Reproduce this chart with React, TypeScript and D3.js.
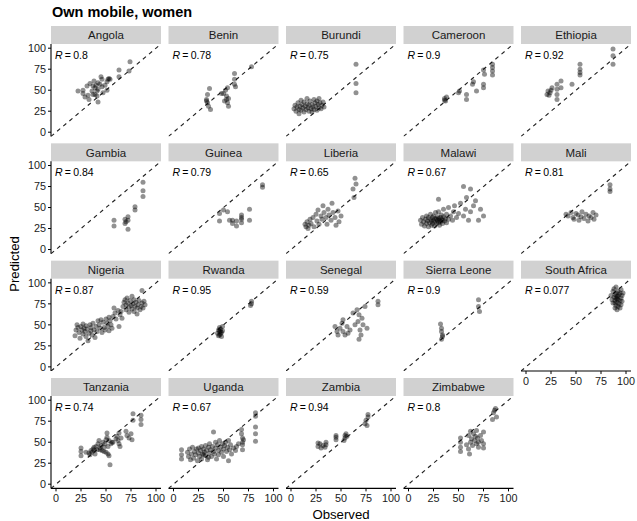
import React from "react";
import * as d3 from "d3";

const COUNTRIES = ["Angola", "Benin", "Burundi", "Cameroon", "Ethiopia", "Gambia", "Guinea", "Liberia", "Malawi", "Mali", "Nigeria", "Rwanda", "Senegal", "Sierra Leone", "South Africa", "Tanzania", "Uganda", "Zambia", "Zimbabwe"];
const R_LABELS = ["0.8", "0.78", "0.75", "0.9", "0.92", "0.84", "0.79", "0.65", "0.67", "0.81", "0.87", "0.95", "0.59", "0.9", "0.077", "0.74", "0.67", "0.94", "0.8"];
const TICKS = [0, 25, 50, 75, 100];

const ANGOLA = [[22,49],[27,50],[27,46],[29,42],[31,55],[32,44],[33,39],[34,58],[36,49],[37,45],[37,55],[38,61],[39,53],[39,45],[40,56],[41,49],[41,43],[42,59],[42,51],[42,36],[44,57],[45,66],[46,63],[46,54],[47,47],[49,56],[51,50],[51,60],[52,63],[53,64],[54,63],[63,74],[63,66],[73,73],[74,84]];
const BENIN = [[36,52],[34,45],[33,39],[34,35],[35,31],[37,27],[33,37],[48,46],[50,46],[53,43],[52,50],[54,53],[53,39],[54,35],[55,31],[51,37],[55,40],[61,70],[61,63],[61,57],[62,54],[78,78]];
const BURUNDI = [[3,28],[4,32],[5,25],[6,30],[7,35],[8,27],[8,22],[9,31],[10,38],[10,26],[11,33],[12,29],[13,24],[13,36],[14,31],[15,27],[16,40],[16,34],[17,29],[18,25],[18,32],[19,37],[20,28],[21,33],[21,24],[22,30],[23,39],[23,27],[24,35],[25,31],[26,26],[26,37],[27,33],[28,29],[28,40],[29,35],[30,28],[31,32],[32,36],[33,30],[65,81],[65,58],[65,47]];
const CAMEROON = [[36,40],[37,37],[38,42],[36,38],[50,47],[51,49],[58,45],[58,39],[64,57],[65,60],[68,49],[75,74],[76,69],[75,57],[75,53],[84,81],[84,77],[84,73],[84,68]];
const ETHIOPIA = [[21,45],[22,49],[24,47],[23,44],[26,53],[25,50],[31,57],[31,51],[31,45],[31,39],[35,61],[35,53],[46,57],[54,81],[54,75],[54,71],[54,68],[87,99],[87,91],[87,81]];
const GAMBIA = [[58,35],[58,28],[69,36],[69,31],[70,33],[72,39],[72,35],[72,24],[79,51],[79,47],[87,80],[87,70],[87,63]];
const GUINEA = [[46,43],[50,47],[54,45],[46,34],[56,35],[59,35],[63,34],[63,28],[59,31],[68,41],[68,38],[68,36],[68,32],[76,48],[76,35],[89,77],[89,74]];
const LIBERIA = [[14,30],[15,27],[16,33],[17,25],[18,29],[19,36],[20,31],[22,38],[23,27],[25,42],[26,34],[27,47],[28,30],[30,40],[31,36],[32,52],[33,44],[35,38],[36,30],[37,48],[38,41],[40,35],[41,55],[42,44],[44,38],[45,29],[47,46],[48,33],[50,40],[62,72],[64,85],[65,78],[63,62]];
const MALAWI = [[12,35],[13,30],[14,38],[15,33],[16,28],[17,36],[18,40],[18,31],[19,34],[20,27],[20,38],[21,32],[22,36],[22,42],[23,29],[23,34],[24,38],[24,31],[25,35],[25,40],[26,33],[26,28],[27,37],[27,44],[28,31],[28,36],[29,39],[29,34],[30,32],[30,37],[30,45],[31,35],[31,29],[32,38],[32,33],[33,36],[33,41],[34,31],[34,35],[35,39],[35,48],[36,34],[37,37],[38,42],[38,32],[40,36],[40,50],[42,40],[44,35],[45,45],[46,52],[48,38],[50,43],[52,55],[55,40],[57,48],[58,62],[60,35],[62,45],[65,52],[67,58],[70,35],[72,48],[75,40],[62,72],[55,75],[30,60]];
const MALI = [[40,42],[42,40],[45,44],[47,38],[48,36],[50,43],[52,41],[53,35],[55,39],[56,45],[58,37],[60,42],[62,34],[63,40],[65,38],[67,44],[68,36],[70,41],[84,77],[84,72],[84,69]];
const NIGERIA = [[19,37],[20,44],[21,50],[22,47],[23,41],[24,34],[25,48],[26,44],[27,51],[27,39],[28,46],[29,42],[30,36],[30,49],[31,45],[32,31],[33,40],[34,50],[35,43],[35,47],[36,38],[37,52],[38,44],[39,35],[40,48],[41,42],[42,55],[43,50],[44,46],[45,56],[46,41],[47,53],[48,47],[49,44],[50,57],[51,52],[52,48],[53,59],[53,43],[54,55],[55,50],[56,46],[57,60],[58,70],[59,64],[60,57],[62,67],[63,48],[64,62],[65,66],[66,58],[67,72],[68,77],[69,80],[70,74],[70,68],[71,82],[72,76],[73,71],[73,65],[74,79],[75,73],[76,69],[76,84],[77,75],[78,66],[78,80],[79,72],[80,77],[81,70],[81,63],[82,74],[83,79],[84,68],[85,72],[86,76],[86,91],[87,70],[88,78],[89,74]];
const RWANDA = [[44,40],[45,44],[45,37],[46,42],[46,47],[47,39],[47,45],[48,41],[48,36],[49,43],[49,48],[47,42],[46,38],[78,78],[77,73],[78,75]];
const SENEGAL = [[44,48],[46,42],[47,38],[49,46],[51,52],[52,56],[52,42],[54,38],[56,48],[57,40],[59,44],[62,64],[64,50],[66,68],[67,54],[68,62],[69,44],[70,38],[68,33],[71,58],[72,50],[74,72],[76,46],[87,78],[87,74]];
const SIERRA_LEONE = [[32,51],[33,46],[33,42],[34,38],[33,33],[34,36],[70,80],[70,72],[71,66]];
const SOUTH_AFRICA = [[85,85],[86,80],[87,90],[87,76],[88,83],[88,93],[89,70],[89,79],[89,86],[90,73],[90,88],[90,95],[91,68],[91,77],[91,84],[92,72],[92,80],[92,90],[93,75],[93,86],[94,70],[94,79],[94,88],[95,74],[95,82],[95,92],[96,78],[96,85],[97,88],[90,82],[91,81],[92,84],[89,76]];
const TANZANIA = [[25,43],[25,39],[25,34],[30,38],[33,37],[34,35],[35,40],[36,38],[37,42],[38,44],[38,40],[39,36],[40,45],[41,41],[42,48],[43,52],[44,43],[44,41],[45,46],[46,40],[47,50],[48,44],[48,39],[49,48],[50,53],[50,38],[51,61],[51,56],[52,45],[52,36],[53,52],[53,34],[54,23],[55,48],[56,50],[57,50],[60,54],[61,57],[62,52],[63,61],[63,48],[64,45],[65,55],[70,63],[71,58],[73,55],[75,60],[76,53],[77,84],[77,76],[85,82],[85,77],[85,71]];
const UGANDA = [[8,41],[8,35],[8,30],[14,38],[15,33],[16,42],[17,29],[18,36],[19,44],[20,31],[21,39],[22,35],[23,42],[24,28],[25,37],[25,43],[26,33],[27,40],[28,45],[28,30],[29,36],[30,42],[30,35],[31,38],[32,34],[32,46],[33,40],[34,29],[35,44],[35,32],[36,37],[36,48],[37,41],[38,33],[39,45],[40,39],[40,62],[41,36],[42,50],[42,43],[43,30],[44,47],[45,40],[45,35],[46,52],[47,44],[48,38],[49,48],[50,42],[50,33],[51,46],[52,50],[53,39],[54,44],[55,28],[55,52],[56,41],[57,47],[58,36],[60,43],[62,40],[63,45],[65,48],[68,65],[68,60],[69,55],[69,50],[69,47],[69,41],[70,53],[82,85],[82,81],[82,68],[82,60],[82,51]];
const ZAMBIA = [[27,49],[27,45],[29,48],[30,43],[32,46],[34,44],[35,47],[35,50],[45,53],[45,56],[45,58],[53,52],[54,55],[54,58],[55,60],[56,57],[74,72],[75,76],[76,70],[77,80],[77,83]];
const ZIMBABWE = [[52,55],[52,50],[52,44],[52,39],[58,47],[60,42],[60,58],[61,36],[62,50],[62,63],[63,54],[64,46],[65,60],[66,52],[67,57],[68,48],[68,64],[69,55],[70,50],[70,44],[72,58],[73,52],[75,62],[75,48],[75,43],[84,77],[85,85],[86,88],[87,90],[88,80]];

const DATA = [ANGOLA, BENIN, BURUNDI, CAMEROON, ETHIOPIA, GAMBIA, GUINEA, LIBERIA, MALAWI, MALI, NIGERIA, RWANDA, SENEGAL, SIERRA_LEONE, SOUTH_AFRICA, TANZANIA, UGANDA, ZAMBIA, ZIMBABWE];

const W = 637;
const H = 521;
const NCOL = 5;
const LEFT0 = 51;
const COL_STEP = 117.5;
const PANEL_W = 110;
const TOP0 = 26;
const ROW_STEP = 117.33;
const STRIP_H = 18;
const PANEL_H = 92.4;
const FONT = "'Liberation Sans', Arial, Helvetica, sans-serif";

function Panel({ i }: { i: number }) {
  const col = i % NCOL;
  const row = Math.floor(i / NCOL);
  const left = LEFT0 + col * COL_STEP;
  const stripTop = TOP0 + row * ROW_STEP;
  const top = stripTop + STRIP_H;
  const bottom = top + PANEL_H;
  const x = d3.scaleLinear().domain([-5, 105]).range([left, left + PANEL_W]);
  const y = d3.scaleLinear().domain([-5, 105]).range([bottom, top]);
  const line = d3.line<number>().x((d) => x(d)).y((d) => y(d));
  const clipId = `clip-${i}`;
  const showLeft = col === 0;
  const showBottom = i + NCOL >= COUNTRIES.length;
  return (
    <g>
      <defs>
        <clipPath id={clipId}>
          <rect x={left} y={top} width={PANEL_W} height={PANEL_H} />
        </clipPath>
      </defs>
      <rect x={left} y={stripTop} width={PANEL_W} height={STRIP_H} fill="#d1d1d1" />
      <text x={left + PANEL_W / 2} y={stripTop + 13.3} textAnchor="middle" fontSize={11.5} fill="#1a1a1a" fontFamily={FONT}>
        {COUNTRIES[i]}
      </text>
      <g clipPath={`url(#${clipId})`}>
        <path d={line([-5, 105]) || ""} stroke="#222" strokeWidth={1.15} strokeDasharray="4,4" fill="none" />
        {DATA[i].map((p, k) => (
          <circle key={k} cx={x(p[0])} cy={y(p[1])} r={2.5} fill="#000" fillOpacity={0.43} />
        ))}
      </g>
      <text x={left + 4} y={y(91.5) + 3.8} fontSize={10.5} fill="#000" fontFamily={FONT}>
        <tspan fontStyle="italic">R</tspan>
        <tspan dx={2.2}>=</tspan>
        <tspan dx={2.2}>{R_LABELS[i]}</tspan>
      </text>
      {showLeft && (
        <g>
          <line x1={left} x2={left} y1={top} y2={bottom} stroke="#000" strokeWidth={1.1} />
          {TICKS.map((t) => (
            <g key={t}>
              <line x1={left - 3} x2={left} y1={y(t)} y2={y(t)} stroke="#000" strokeWidth={1} />
              <text x={left - 5} y={y(t) + 3.8} textAnchor="end" fontSize={10.8} fill="#1a1a1a" fontFamily={FONT}>
                {t}
              </text>
            </g>
          ))}
        </g>
      )}
      {showBottom && (
        <g>
          <line x1={left} x2={left + PANEL_W} y1={bottom} y2={bottom} stroke="#000" strokeWidth={1.1} />
          {TICKS.map((t) => (
            <g key={t}>
              <line x1={x(t)} x2={x(t)} y1={bottom} y2={bottom + 3} stroke="#000" strokeWidth={1} />
              <text x={x(t)} y={bottom + 13.5} textAnchor="middle" fontSize={10.8} fill="#1a1a1a" fontFamily={FONT}>
                {t}
              </text>
            </g>
          ))}
        </g>
      )}
    </g>
  );
}

export default function App() {
  return (
    <svg width={W} height={H} style={{ position: "absolute", left: 0, top: 0, background: "#fff" }} fontFamily={FONT}>
      <rect x={0} y={0} width={W} height={H} fill="#fff" />
      <text x={52} y={17} fontSize={14.5} fontWeight="bold" fill="#000">
        Own mobile, women
      </text>
      {COUNTRIES.map((c, i) => (
        <Panel key={c} i={i} />
      ))}
      <text x={341} y={518.5} textAnchor="middle" fontSize={13.2} fill="#000">
        Observed
      </text>
      <text transform={`translate(18.5,264) rotate(-90)`} textAnchor="middle" fontSize={13.2} fill="#000">
        Predicted
      </text>
    </svg>
  );
}
